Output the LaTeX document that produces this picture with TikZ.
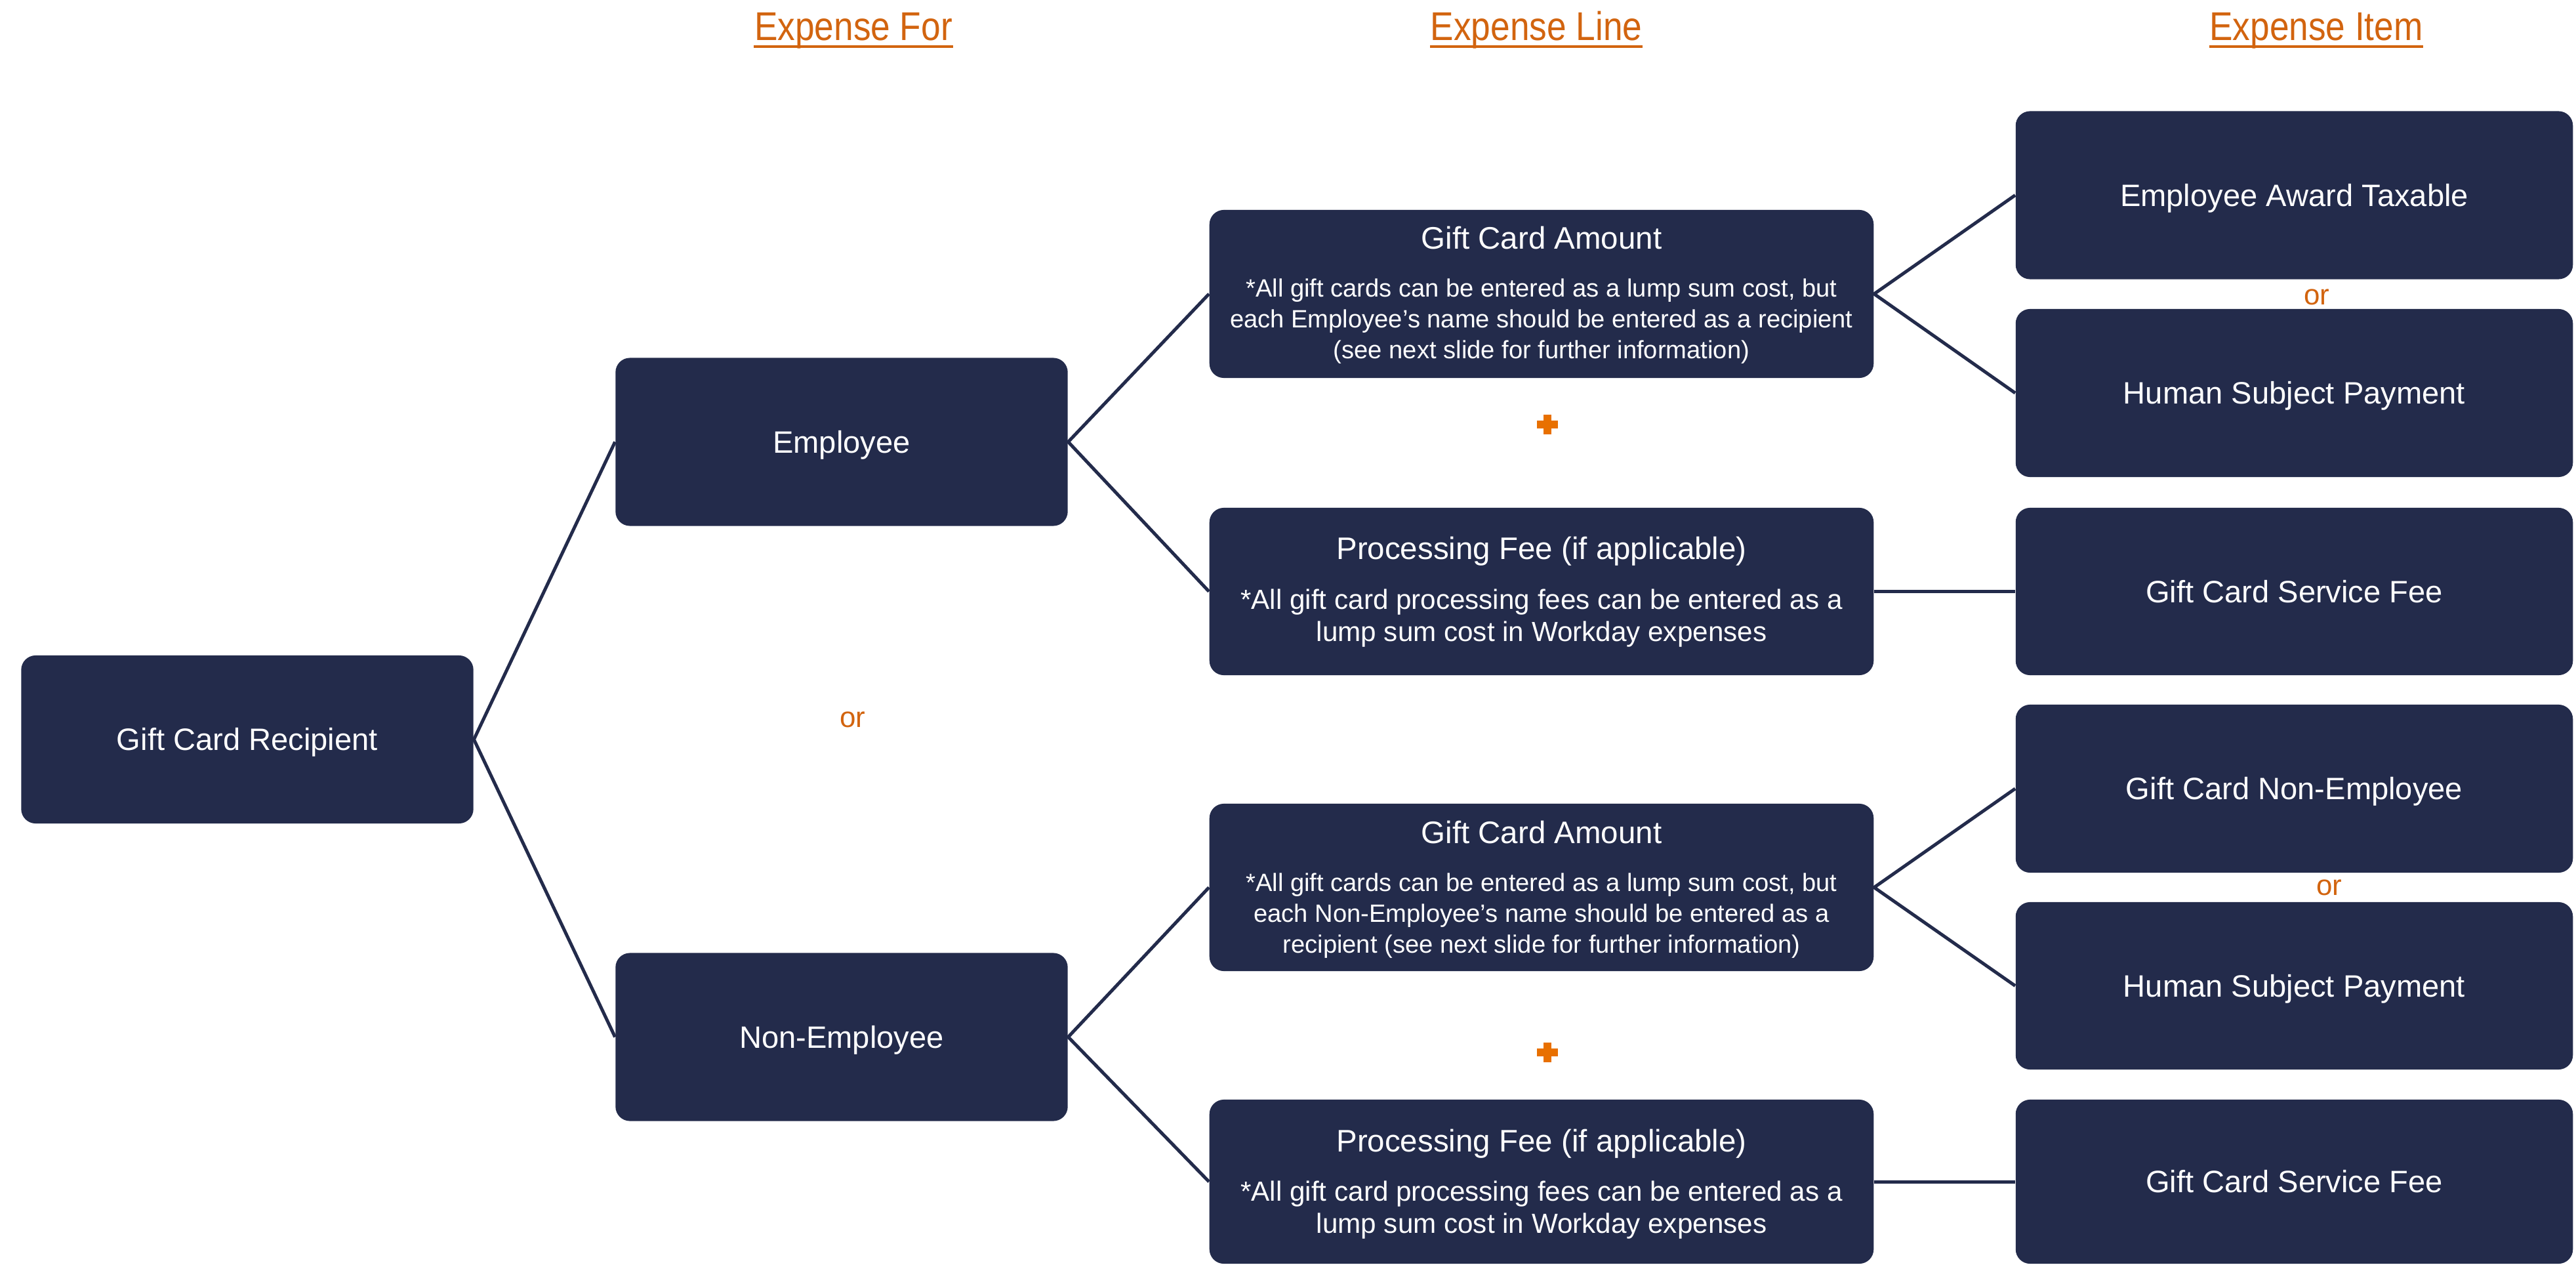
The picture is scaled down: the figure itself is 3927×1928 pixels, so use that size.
\documentclass[tikz,border=0pt]{standalone}
\usepackage{fontspec}
\setmainfont{Liberation Sans}
\newfontfamily\hdrfont[FakeStretch=0.87]{Liberation Sans}
\definecolor{navy}{HTML}{232B4B}
\definecolor{hdrorange}{HTML}{D2640F}
\definecolor{plusorange}{HTML}{E87000}
\begin{document}
\begin{tikzpicture}[x=0.01cm,y=-0.01cm,
  box/.style={fill=navy, rounded corners=0.22cm, inner sep=0pt, text=white, align=center},
  onebox/.style={box, text height=9.6pt, text depth=0pt, font=\fontsize{13.4pt}{16pt}\selectfont},
  leftw/.style={minimum width=6.89cm, minimum height=2.56cm},
  midw/.style={minimum width=10.12cm, minimum height=2.56cm},
  rightw/.style={minimum width=8.49cm, minimum height=2.56cm},
  titletxt/.style={anchor=base, inner sep=0pt, text=white, font=\fontsize{13.5pt}{16pt}\selectfont},
  subsmall/.style={anchor=base, inner sep=0pt, text=white, font=\fontsize{10.85pt}{13pt}\selectfont},
  subbig/.style={anchor=base, inner sep=0pt, text=white, font=\fontsize{12pt}{14pt}\selectfont},
  hdr/.style={anchor=base, inner sep=0pt, text=hdrorange, font=\hdrfont\fontsize{17.4pt}{20pt}\selectfont},
  hdrline/.style={draw=hdrorange, line width=0.04cm},
  ortxt/.style={inner sep=0pt, text=hdrorange, font=\fontsize{12.5pt}{15pt}\selectfont},
  conn/.style={draw=navy, line width=0.05cm},
  plusmark/.style={fill=plusorange}
]
\useasboundingbox (0,0) rectangle (3927,1928);

% headers
\node[hdr] (h1) at (1301,62) {Expense For};
\node[hdr] (h2) at (2342,62) {Expense Line};
\node[hdr] (h3) at (3531,62) {Expense Item};
\foreach \h in {h1,h2,h3}{
  \draw[hdrline] ([yshift=-0.09cm]\h.base west) -- ([yshift=-0.09cm]\h.base east);
}

% left column
\node[onebox, leftw] (gcr) at (377,1127) {Gift Card Recipient};
\node[onebox, leftw] (emp) at (1283,673.5) {Employee};
\node[onebox, leftw] (nemp) at (1283,1580.5) {Non-Employee};
\node[ortxt] (or1) at (1300,1097) {or};

% middle column: top
\node[box, midw] (gca1) at (2350,448) {};
\node[titletxt] (gca1t) at (2350,380) {Gift Card Amount};
\node[subsmall] (gca1a) at (2350,453) {*All gift cards can be entered as a lump sum cost, but};
\node[subsmall] (gca1b) at (2350,500) {each Employee’s name should be entered as a recipient};
\node[subsmall] (gca1c) at (2350,547) {(see next slide for further information)};

\node[box, midw, minimum height=2.55cm] (pf1) at (2350,901.5) {};
\node[titletxt] (pf1t) at (2350,853) {Processing Fee (if applicable)};
\node[subbig] (pf1a) at (2350,928) {*All gift card processing fees can be entered as a};
\node[subbig] (pf1b) at (2350,977) {lump sum cost in Workday expenses};

% middle column: bottom
\node[box, midw, minimum height=2.55cm] (gca2) at (2350,1352.5) {};
\node[titletxt] (gca2t) at (2350,1285) {Gift Card Amount};
\node[subsmall] (gca2a) at (2350,1358) {*All gift cards can be entered as a lump sum cost, but};
\node[subsmall] (gca2b) at (2350,1405) {each Non-Employee’s name should be entered as a};
\node[subsmall] (gca2c) at (2350,1452) {recipient (see next slide for further information)};

\node[box, midw, minimum height=2.50cm] (pf2) at (2350,1801) {};
\node[titletxt] (pf2t) at (2350,1755) {Processing Fee (if applicable)};
\node[subbig] (pf2a) at (2350,1830) {*All gift card processing fees can be entered as a};
\node[subbig] (pf2b) at (2350,1879) {lump sum cost in Workday expenses};

% plus signs
\coordinate (p1) at (2359,647);
\coordinate (p2) at (2359,1604);
\foreach \p in {p1,p2}{
  \fill[plusmark] ([xshift=-0.16cm,yshift=-0.06cm]\p) rectangle ([xshift=0.16cm,yshift=0.06cm]\p);
  \fill[plusmark] ([xshift=-0.06cm,yshift=-0.15cm]\p) rectangle ([xshift=0.06cm,yshift=0.15cm]\p);
}

% right column
\node[onebox, rightw] (eat) at (3497.5,297.5) {Employee Award Taxable};
\node[ortxt] (or2) at (3532,453) {or};
\node[onebox, rightw] (hsp1) at (3497.5,599) {Human Subject Payment};
\node[onebox, rightw, minimum height=2.55cm] (gcsf1) at (3497.5,901.5) {Gift Card Service Fee};
\node[onebox, rightw] (gcne) at (3497.5,1202) {Gift Card Non-Employee};
\node[ortxt] (or3) at (3551,1353) {or};
\node[onebox, rightw, minimum height=2.55cm] (hsp2) at (3497.5,1502.5) {Human Subject Payment};
\node[onebox, rightw, minimum height=2.50cm] (gcsf2) at (3497.5,1801) {Gift Card Service Fee};

% connectors
\draw[conn] (emp.west) -- (gcr.east) -- (nemp.west);
\draw[conn] (gca1.west) -- (emp.east) -- (pf1.west);
\draw[conn] (gca2.west) -- (nemp.east) -- (pf2.west);
\draw[conn] (eat.west) -- (gca1.east) -- (hsp1.west);
\draw[conn] (gcne.west) -- (gca2.east) -- (hsp2.west);
\draw[conn] (pf1.east) -- (gcsf1.west);
\draw[conn] (pf2.east) -- (gcsf2.west);
\end{tikzpicture}
\end{document}
